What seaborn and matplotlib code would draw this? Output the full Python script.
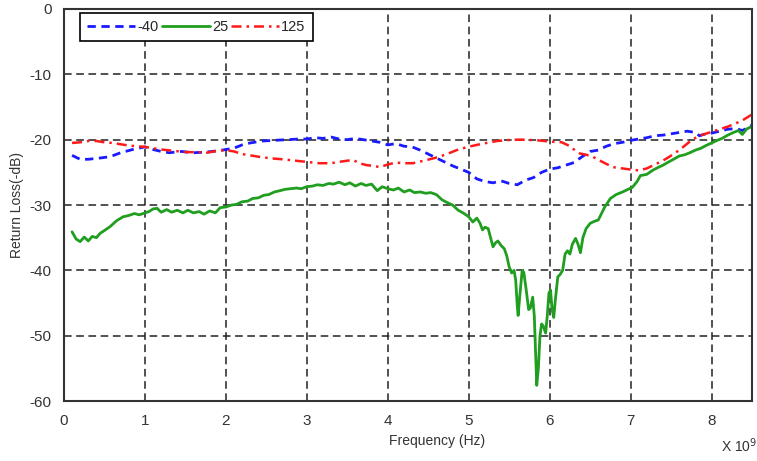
import matplotlib
matplotlib.use('Agg')
import matplotlib.pyplot as plt
import seaborn as sns

sns.set_style('white')
plt.rcParams['font.family'] = ['Liberation Sans', 'DejaVu Sans']
plt.rcParams['axes.unicode_minus'] = False

# Frequency in GHz (x 10^9 Hz), return loss in dB
freq_m40 = [0.1, 0.2, 0.3, 0.45, 0.57, 0.7, 0.85, 1.0, 1.1, 1.2, 1.3, 1.45, 1.6, 1.75, 1.9, 2.0,
            2.1, 2.2, 2.3, 2.45, 2.6, 2.75, 2.9, 3.0, 3.1, 3.2, 3.3, 3.4, 3.5, 3.6, 3.7, 3.8,
            3.9, 4.0, 4.1, 4.2, 4.3, 4.4, 4.5, 4.6, 4.7, 4.8, 4.9, 5.0, 5.1, 5.2, 5.3, 5.4,
            5.5, 5.6, 5.7, 5.8, 5.9, 6.0, 6.1, 6.2, 6.3, 6.4, 6.5, 6.6, 6.7, 6.8, 6.9, 7.0,
            7.1, 7.2, 7.3, 7.4, 7.5, 7.6, 7.7, 7.8, 7.85, 7.9, 8.0, 8.1, 8.2, 8.3, 8.38, 8.44, 8.49]
loss_m40 = [-22.4, -23.0, -23.0, -22.8, -22.6, -22.0, -21.5, -21.1, -21.5, -21.8, -22.0, -21.8, -22.0, -21.9, -21.7, -21.5,
            -21.3, -20.8, -20.5, -20.2, -20.1, -20.0, -19.9, -19.9, -19.7, -19.8, -19.6, -19.9, -20.0, -19.8, -20.0, -20.2,
            -20.4, -20.8, -20.6, -21.0, -21.1, -21.6, -22.2, -22.8, -23.4, -24.0, -24.5, -25.0, -26.0, -26.4, -26.6, -26.3,
            -26.7, -26.9, -26.2, -25.8, -25.0, -24.5, -24.3, -23.9, -23.5, -22.6, -21.8, -21.6, -21.0, -20.6, -20.4, -20.1,
            -19.9, -19.7, -19.4, -19.3, -19.1, -18.9, -18.7, -18.9, -19.4, -19.2, -19.0, -18.7, -18.4, -18.3, -18.6, -18.2, -17.8]

freq_25 = [0.1, 0.15, 0.2, 0.25, 0.3, 0.35, 0.4, 0.45, 0.5, 0.57, 0.65, 0.73, 0.8, 0.87, 0.93, 1.0,
           1.05, 1.1, 1.15, 1.2, 1.27, 1.33, 1.4, 1.47, 1.53, 1.6, 1.67, 1.73, 1.8, 1.87, 1.93, 2.0,
           2.07, 2.13, 2.2, 2.27, 2.33, 2.4, 2.47, 2.53, 2.6, 2.67, 2.73, 2.8, 2.87, 2.93, 3.0, 3.07,
           3.13, 3.2, 3.27, 3.33, 3.4, 3.47, 3.53, 3.6, 3.67, 3.73, 3.8, 3.87, 3.93, 4.0, 4.07, 4.13,
           4.2, 4.27, 4.33, 4.4, 4.47, 4.53, 4.6, 4.67, 4.73, 4.8, 4.87, 4.93,
           5.0, 5.05, 5.1, 5.14, 5.17, 5.2, 5.24, 5.27, 5.3, 5.33, 5.36, 5.4, 5.44, 5.47, 5.5, 5.53,
           5.56, 5.58, 5.6, 5.61, 5.63, 5.66, 5.68, 5.71, 5.74, 5.76, 5.79, 5.81, 5.83, 5.84, 5.86, 5.88,
           5.9, 5.92, 5.95, 5.97, 5.99, 6.01, 6.03, 6.05, 6.07, 6.1, 6.13, 6.16, 6.19, 6.22, 6.25, 6.28,
           6.32, 6.35, 6.38, 6.41, 6.45, 6.5, 6.55, 6.6, 6.68, 6.75, 6.82, 6.9,
           6.97, 7.02, 7.08, 7.12, 7.2, 7.27, 7.33, 7.4, 7.47, 7.53, 7.6, 7.67, 7.73, 7.8, 7.87, 7.93,
           8.0, 8.07, 8.13, 8.2, 8.27, 8.33, 8.38, 8.43, 8.49]
loss_25 = [-34.1, -35.2, -35.6, -34.9, -35.5, -34.8, -35.0, -34.3, -33.9, -33.3, -32.4, -31.8, -31.6, -31.3, -31.5, -31.2,
           -31.0, -30.6, -30.5, -31.1, -30.7, -31.1, -30.8, -31.2, -30.8, -31.2, -31.0, -31.4, -30.9, -31.2, -30.4, -30.3,
           -30.0, -29.9, -29.5, -29.4, -29.0, -28.9, -28.5, -28.4, -28.0, -27.8, -27.6, -27.5, -27.4, -27.5, -27.2, -27.1,
           -26.9, -27.0, -26.7, -26.8, -26.5, -26.9, -26.6, -27.1, -26.7, -27.0, -26.8, -27.8, -27.2, -27.5, -27.7, -27.4,
           -28.0, -27.7, -28.1, -28.0, -28.2, -28.1, -28.4, -29.2, -29.6, -30.0, -30.8, -31.2,
           -31.8, -32.6, -32.0, -32.8, -33.8, -33.4, -33.6, -35.0, -36.4, -35.8, -35.5, -36.2, -36.7, -37.8, -39.5, -40.4,
           -40.0, -41.5, -45.5, -46.9, -44.0, -40.0, -40.3, -43.0, -46.0, -45.8, -44.1, -47.0, -54.0, -57.6, -55.0, -50.0,
           -48.2, -48.5, -49.6, -47.0, -43.5, -43.0, -46.0, -47.2, -44.5, -41.0, -40.6, -40.0, -37.5, -37.0, -37.5, -36.0,
           -35.1, -36.0, -37.3, -35.0, -33.6, -32.8, -32.5, -32.3, -30.3, -29.0, -28.4, -28.0,
           -27.6, -27.3, -26.4, -25.5, -25.3, -24.7, -24.3, -23.9, -23.4, -23.0, -22.5, -22.3, -22.0, -21.6, -21.3, -20.9,
           -20.5, -20.1, -19.8, -19.3, -18.9, -18.6, -19.2, -18.4, -18.0]

freq_125 = [0.1, 0.2, 0.3, 0.4, 0.5, 0.6, 0.7, 0.8, 0.9, 1.0, 1.1, 1.2, 1.35, 1.5, 1.65, 1.76,
            1.9, 2.0, 2.1, 2.2, 2.3, 2.45, 2.6, 2.7, 2.85, 3.0, 3.15, 3.3, 3.45, 3.57, 3.65, 3.74,
            3.82, 3.9, 4.0, 4.1, 4.2, 4.31, 4.45, 4.55, 4.64, 4.75, 4.85, 4.99, 5.1, 5.22, 5.35, 5.45,
            5.55, 5.7, 5.85, 6.01, 6.15, 6.25, 6.3, 6.37, 6.45, 6.53, 6.65, 6.78, 6.9, 7.02, 7.1, 7.2,
            7.3, 7.4, 7.48, 7.6, 7.7, 7.76, 7.85, 8.0, 8.1, 8.2, 8.3, 8.4, 8.49]
loss_125 = [-20.5, -20.4, -20.2, -20.2, -20.4, -20.5, -20.7, -20.9, -21.0, -21.1, -21.3, -21.5, -21.7, -21.9, -21.9, -22.0,
            -21.7, -21.6, -21.8, -22.2, -22.4, -22.7, -22.9, -23.0, -23.2, -23.4, -23.6, -23.6, -23.3, -23.1, -23.6, -23.9,
            -24.0, -24.2, -23.8, -23.5, -23.6, -23.6, -23.2, -22.9, -22.6, -22.1, -21.6, -21.1, -20.8, -20.5, -20.2, -20.1,
            -20.0, -20.0, -20.1, -20.3, -20.4, -21.0, -21.5, -22.1, -22.3, -22.6, -23.4, -24.2, -24.4, -24.6, -24.7, -24.4,
            -23.8, -23.2, -22.6, -21.6, -20.6, -20.0, -19.4, -18.8, -18.4, -18.0, -17.5, -16.9, -16.2]

x_ticks = [0, 1, 2, 3, 4, 5, 6, 7, 8]
y_ticks = [0, -10, -20, -30, -40, -50, -60]

fig = plt.figure(figsize=(7.57, 4.61), dpi=100)
ax = fig.add_axes([0.0845, 0.13, 0.909, 0.8505])

# Three temperature curves
sns.lineplot(x=freq_m40, y=loss_m40, ax=ax, color='#1a1aff', lw=2.0,
             linestyle=(0, (3, 2)), label='-40', sort=False)
sns.lineplot(x=freq_25, y=loss_25, ax=ax, color='#1f9e1f', lw=2.0,
             linestyle='-', label='25', sort=False)
sns.lineplot(x=freq_125, y=loss_125, ax=ax, color='#ff1a1a', lw=1.8,
             linestyle=(0, (4, 2, 1, 2)), label='125', sort=False)

ax.set_xlim(0, 8.5)
ax.set_ylim(-60, 0)
ax.set_xticks(x_ticks)
ax.set_yticks(y_ticks)
ax.tick_params(length=0, pad=9, labelsize=11, labelcolor='#333333')

# Dashed black grid
ax.grid(True, color='#222222', linestyle=(0, (5, 3)), linewidth=1.1)
ax.set_axisbelow(True)

for s in ax.spines.values():
    s.set_visible(True)
    s.set_color('#333333')
    s.set_linewidth(1.5)

ax.set_xlabel('Frequency (Hz)', fontsize=10, color='#333333')
ax.xaxis.set_label_coords((437 - 64) / 688, -0.085)
ax.set_ylabel('Return Loss(-dB)', fontsize=10, color='#333333')
ax.yaxis.set_label_coords(-0.058, 0.5)

fig.text(0.952, 0.012, r'X 10$^{9}$', fontsize=10, color='#333333', ha='left', va='bottom')

leg = ax.legend(loc='upper left', bbox_to_anchor=(0.023, 0.99), ncol=3, fontsize=10.5,
                handlelength=3.3, handletextpad=0.15, columnspacing=0.2, borderpad=0.5,
                borderaxespad=0, fancybox=False, framealpha=1, edgecolor='black')
leg.get_frame().set_linewidth(1.2)

fig.savefig('out.png', dpi=100)
